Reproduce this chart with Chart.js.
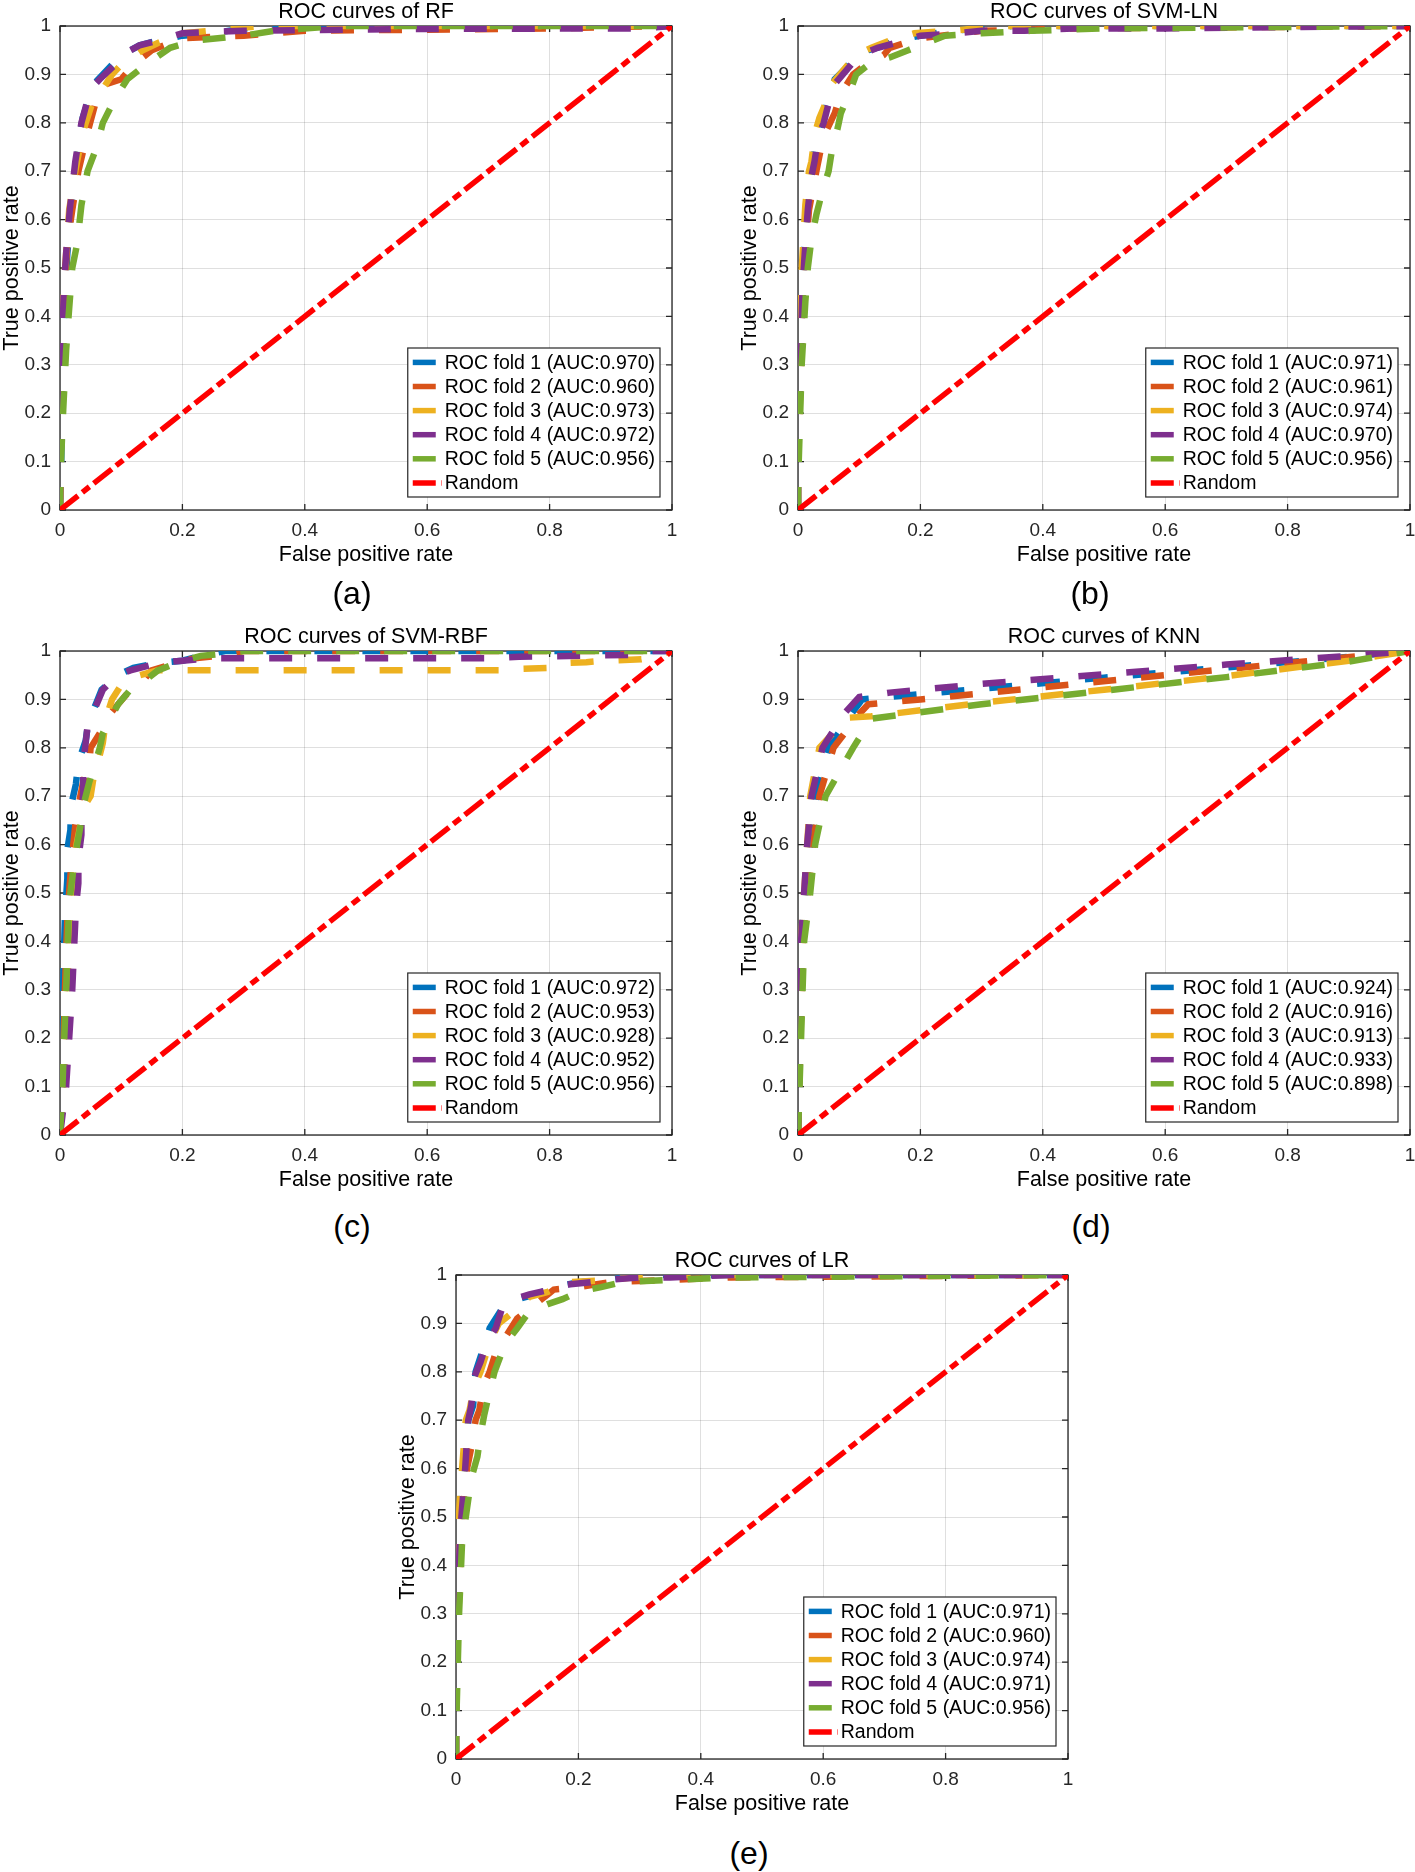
<!DOCTYPE html>
<html>
<head>
<meta charset="utf-8">
<script src="https://cdn.jsdelivr.net/npm/chart.js@4.4.1/dist/chart.umd.min.js"></script>
<style>
  html, body { margin: 0; padding: 0; background: #fff; overflow: hidden; }
  body { width: 1415px; height: 1872px; position: relative; font-family: "Liberation Sans", Arial, sans-serif; }
  canvas { position: absolute; }
  .tag { position: absolute; font-size: 32px; color: #000; transform: translate(-50%, -50%); white-space: nowrap; }
</style>
</head>
<body>
<canvas id="rf"></canvas>
<canvas id="svmln"></canvas>
<canvas id="svmrbf"></canvas>
<canvas id="knn"></canvas>
<canvas id="lr"></canvas>
<div class="tag" style="left:352px;top:593px">(a)</div>
<div class="tag" style="left:1090px;top:593px">(b)</div>
<div class="tag" style="left:352px;top:1226px">(c)</div>
<div class="tag" style="left:1091px;top:1226px">(d)</div>
<div class="tag" style="left:749px;top:1853px">(e)</div>
<script>
// tick labels
const xTicks = [0, 0.2, 0.4, 0.6, 0.8, 1];
const yTicks = [0, 0.1, 0.2, 0.3, 0.4, 0.5, 0.6, 0.7, 0.8, 0.9, 1];

const randomLine = [[0, 0], [1, 1]];

// RF
const rfFold1 = [[0,0],[0.002,0.1],[0.004,0.3],[0.008,0.44],[0.012,0.53],[0.018,0.62],[0.027,0.72],[0.037,0.81],[0.055,0.88],[0.07,0.9],[0.1,0.94],[0.13,0.96],[0.16,0.97],[0.2,0.98],[0.25,0.985],[0.3,0.995],[0.4,1],[1,1]];
const rfFold2 = [[0,0],[0.001,0.1],[0.004,0.3],[0.007,0.45],[0.012,0.55],[0.02,0.62],[0.03,0.7],[0.045,0.78],[0.06,0.85],[0.075,0.88],[0.1,0.89],[0.12,0.92],[0.15,0.95],[0.17,0.96],[0.2,0.975],[0.3,0.98],[0.4,0.99],[0.8,0.995],[1,1]];
const rfFold3 = [[0,0],[0.001,0.1],[0.003,0.3],[0.005,0.44],[0.01,0.53],[0.015,0.62],[0.025,0.7],[0.037,0.78],[0.055,0.85],[0.07,0.87],[0.085,0.9],[0.1,0.92],[0.135,0.95],[0.16,0.965],[0.2,0.985],[0.33,1],[1,1]];
const rfFold4 = [[0,0],[0,0.12],[0.003,0.3],[0.006,0.45],[0.01,0.53],[0.016,0.62],[0.025,0.72],[0.035,0.8],[0.05,0.87],[0.065,0.89],[0.09,0.92],[0.1,0.94],[0.13,0.96],[0.16,0.97],[0.2,0.985],[0.3,0.99],[0.6,0.994],[0.95,0.995],[1,1]];
const rfFold5 = [[0,0],[0,0.05],[0.005,0.2],[0.01,0.33],[0.014,0.4],[0.02,0.5],[0.028,0.55],[0.035,0.63],[0.045,0.7],[0.06,0.75],[0.07,0.8],[0.09,0.85],[0.11,0.89],[0.14,0.92],[0.18,0.955],[0.22,0.97],[0.3,0.98],[0.35,0.99],[0.45,1],[1,1]];
const rfAuc = [0.970, 0.960, 0.973, 0.972, 0.956];

// SVM-LN
const lnFold1 = [[0,0],[0,0.1],[0.003,0.3],[0.006,0.45],[0.01,0.54],[0.015,0.62],[0.02,0.68],[0.025,0.72],[0.03,0.77],[0.04,0.81],[0.05,0.85],[0.06,0.89],[0.08,0.915],[0.1,0.945],[0.13,0.955],[0.16,0.97],[0.2,0.98],[0.25,0.99],[0.3,0.995],[0.35,1],[1,1]];
const lnFold2 = [[0,0],[0,0.1],[0.005,0.3],[0.008,0.45],[0.012,0.53],[0.018,0.62],[0.03,0.7],[0.038,0.75],[0.045,0.78],[0.06,0.82],[0.07,0.86],[0.09,0.9],[0.11,0.92],[0.14,0.94],[0.15,0.955],[0.2,0.975],[0.3,0.99],[0.45,0.995],[1,1]];
const lnFold3 = [[0,0],[0,0.1],[0.002,0.3],[0.004,0.45],[0.008,0.54],[0.012,0.63],[0.018,0.7],[0.022,0.72],[0.028,0.78],[0.035,0.81],[0.045,0.84],[0.055,0.88],[0.075,0.91],[0.095,0.94],[0.12,0.955],[0.15,0.97],[0.19,0.985],[0.25,0.99],[0.33,1],[1,1]];
const lnFold4 = [[0,0],[0,0.1],[0.004,0.3],[0.007,0.45],[0.011,0.53],[0.016,0.62],[0.022,0.69],[0.027,0.72],[0.033,0.77],[0.042,0.8],[0.05,0.84],[0.06,0.88],[0.08,0.91],[0.1,0.94],[0.13,0.955],[0.16,0.965],[0.2,0.98],[0.26,0.985],[0.3,0.99],[0.37,0.99],[0.45,0.995],[0.6,0.995],[1,1]];
const lnFold5 = [[0,0],[0,0.05],[0.006,0.3],[0.012,0.43],[0.016,0.5],[0.022,0.56],[0.03,0.61],[0.04,0.66],[0.05,0.7],[0.055,0.74],[0.065,0.79],[0.07,0.82],[0.085,0.865],[0.095,0.9],[0.12,0.925],[0.15,0.935],[0.18,0.95],[0.21,0.965],[0.24,0.98],[0.3,0.985],[0.38,0.99],[0.5,0.995],[1,1]];
const lnAuc = [0.971, 0.961, 0.974, 0.970, 0.956];

// SVM-RBF
const rbfFold1 = [[0,0],[0.003,0.1],[0.005,0.3],[0.008,0.45],[0.012,0.53],[0.012,0.59],[0.017,0.63],[0.018,0.68],[0.026,0.725],[0.03,0.77],[0.042,0.815],[0.046,0.85],[0.06,0.895],[0.068,0.92],[0.094,0.95],[0.12,0.965],[0.16,0.975],[0.2,0.98],[0.23,0.99],[0.27,1],[1,1]];
const rbfFold2 = [[0,0],[0.004,0.1],[0.008,0.3],[0.012,0.45],[0.016,0.52],[0.02,0.58],[0.025,0.64],[0.03,0.68],[0.038,0.73],[0.048,0.77],[0.05,0.8],[0.065,0.83],[0.075,0.86],[0.095,0.89],[0.115,0.92],[0.14,0.945],[0.15,0.96],[0.19,0.975],[0.22,0.985],[0.26,0.99],[0.3,1],[1,1]];
const rbfFold3 = [[0,0],[0.006,0.1],[0.012,0.3],[0.016,0.45],[0.02,0.5],[0.025,0.55],[0.027,0.6],[0.035,0.65],[0.04,0.68],[0.05,0.7],[0.055,0.74],[0.062,0.77],[0.07,0.81],[0.075,0.86],[0.085,0.9],[0.1,0.93],[0.13,0.95],[0.16,0.96],[0.72,0.96],[0.75,0.963],[0.8,0.965],[0.82,0.975],[0.86,0.977],[0.89,0.98],[0.95,0.983],[0.97,0.988],[1,1]];
const rbfFold4 = [[0,0],[0.01,0.1],[0.02,0.3],[0.026,0.47],[0.03,0.52],[0.03,0.57],[0.035,0.62],[0.035,0.66],[0.038,0.71],[0.038,0.77],[0.042,0.81],[0.045,0.845],[0.06,0.89],[0.07,0.92],[0.094,0.95],[0.115,0.96],[0.16,0.975],[0.2,0.98],[0.25,0.985],[0.7,0.985],[0.75,0.988],[0.93,0.992],[0.95,1],[1,1]];
const rbfFold5 = [[0,0],[0.004,0.1],[0.01,0.3],[0.014,0.45],[0.017,0.5],[0.022,0.55],[0.028,0.6],[0.035,0.65],[0.04,0.69],[0.048,0.73],[0.058,0.77],[0.065,0.8],[0.07,0.83],[0.082,0.86],[0.095,0.89],[0.115,0.92],[0.14,0.94],[0.16,0.96],[0.19,0.975],[0.23,0.99],[0.27,0.995],[0.3,1],[1,1]];
const rbfAuc = [0.972, 0.953, 0.928, 0.952, 0.956];

// KNN
const knnFold1 = [[0,0],[0.003,0.2],[0.006,0.4],[0.012,0.5],[0.02,0.6],[0.03,0.7],[0.05,0.8],[0.09,0.875],[0.105,0.9],[0.15,0.905],[0.3,0.922],[0.5,0.945],[0.7,0.966],[0.9,0.988],[1,1]];
const knnFold2 = [[0,0],[0.004,0.2],[0.008,0.4],[0.016,0.5],[0.025,0.6],[0.035,0.7],[0.058,0.8],[0.1,0.87],[0.115,0.89],[0.2,0.9],[0.4,0.925],[0.6,0.95],[0.8,0.975],[1,1]];
const knnFold3 = [[0,0],[0.002,0.2],[0.005,0.4],[0.01,0.5],[0.015,0.6],[0.02,0.7],[0.035,0.8],[0.08,0.862],[0.12,0.865],[0.3,0.893],[0.5,0.92],[0.7,0.948],[0.9,0.98],[1,1]];
const knnFold4 = [[0,0],[0.002,0.2],[0.005,0.4],[0.01,0.5],[0.015,0.6],[0.022,0.7],[0.04,0.8],[0.075,0.87],[0.1,0.905],[0.15,0.914],[0.3,0.932],[0.5,0.952],[0.7,0.972],[0.9,0.99],[1,1]];
const knnFold5 = [[0,0],[0.005,0.2],[0.01,0.4],[0.02,0.5],[0.028,0.6],[0.045,0.7],[0.09,0.8],[0.12,0.86],[0.3,0.89],[0.5,0.918],[0.7,0.946],[0.9,0.978],[1,1]];
const knnAuc = [0.924, 0.916, 0.913, 0.933, 0.898];

// LR
const lrFold1 = [[0,0],[0,0.1],[0.002,0.3],[0.004,0.45],[0.008,0.52],[0.014,0.61],[0.02,0.7],[0.028,0.73],[0.032,0.8],[0.045,0.85],[0.055,0.89],[0.075,0.93],[0.1,0.95],[0.13,0.96],[0.16,0.975],[0.2,0.985],[0.25,0.99],[0.3,1],[1,1]];
const lrFold2 = [[0,0],[0,0.1],[0.004,0.3],[0.008,0.45],[0.012,0.53],[0.018,0.6],[0.026,0.65],[0.032,0.7],[0.038,0.72],[0.045,0.77],[0.055,0.8],[0.065,0.84],[0.08,0.87],[0.1,0.91],[0.12,0.93],[0.15,0.96],[0.16,0.97],[0.2,0.975],[0.25,0.985],[0.35,0.99],[0.45,0.995],[1,1]];
const lrFold3 = [[0,0],[0,0.1],[0.001,0.3],[0.003,0.45],[0.006,0.53],[0.01,0.6],[0.016,0.7],[0.022,0.72],[0.03,0.77],[0.04,0.8],[0.055,0.86],[0.07,0.9],[0.085,0.915],[0.1,0.93],[0.12,0.955],[0.15,0.965],[0.18,0.985],[0.25,0.99],[0.33,1],[1,1]];
const lrFold4 = [[0,0],[0,0.1],[0.003,0.3],[0.006,0.45],[0.01,0.52],[0.015,0.6],[0.02,0.7],[0.025,0.73],[0.03,0.79],[0.04,0.82],[0.05,0.86],[0.065,0.89],[0.075,0.93],[0.095,0.95],[0.12,0.96],[0.155,0.97],[0.18,0.98],[0.22,0.985],[0.25,0.99],[0.3,0.995],[0.35,0.995],[0.45,1],[1,1]];
const lrFold5 = [[0,0],[0,0.05],[0.005,0.3],[0.01,0.45],[0.016,0.5],[0.025,0.58],[0.035,0.625],[0.04,0.67],[0.046,0.71],[0.055,0.76],[0.063,0.8],[0.075,0.84],[0.085,0.865],[0.1,0.89],[0.12,0.925],[0.15,0.94],[0.174,0.95],[0.2,0.965],[0.237,0.975],[0.27,0.985],[0.35,0.99],[0.45,0.995],[1,1]];
const lrAuc = [0.971, 0.960, 0.974, 0.971, 0.956];

const foldColors = ['#0072BD', '#D95319', '#EDB120', '#7E2F8E', '#77AC30'];
const randomColor = '#FF0000';
const foldDash = [23, 25];
const randomDash = [23, 5.5, 9, 5.5];
const FONT = '"Liberation Sans", Arial, Helvetica, sans-serif';

Chart.defaults.font.family = FONT;

// box, inward ticks and the in-axes legend, matlab style
const matlabAxes = {
  id: 'matlabAxes',
  beforeDatasetsDraw(chart) {
    const {ctx, chartArea: a, scales: {x, y}} = chart;
    ctx.save();
    ctx.strokeStyle = '#262626';
    ctx.lineWidth = 1.3;
    ctx.strokeRect(a.left, a.top, a.width, a.height);
    ctx.beginPath();
    xTicks.forEach(v => {
      const px = x.getPixelForValue(v);
      ctx.moveTo(px, a.bottom); ctx.lineTo(px, a.bottom - 6);
      ctx.moveTo(px, a.top); ctx.lineTo(px, a.top + 6);
    });
    yTicks.forEach(v => {
      const py = y.getPixelForValue(v);
      ctx.moveTo(a.left, py); ctx.lineTo(a.left + 6, py);
      ctx.moveTo(a.right, py); ctx.lineTo(a.right - 6, py);
    });
    ctx.stroke();
    ctx.restore();
  },
  afterDatasetsDraw(chart, args, opts) {
    const {ctx, chartArea: a} = chart;
    const labels = opts.auc.map((v, i) => `ROC fold ${i + 1} (AUC:${v.toFixed(3)})`);
    labels.push('Random');
    ctx.save();
    ctx.font = '19.5px ' + FONT;
    const textW = Math.max(...labels.map(t => ctx.measureText(t).width));
    const w = 37 + textW + 5;
    const h = 149;
    const left = a.right - 12 - w;
    const top = a.bottom - 13 - h;
    ctx.fillStyle = '#fff';
    ctx.fillRect(left, top, w, h);
    ctx.strokeStyle = '#262626';
    ctx.lineWidth = 1.2;
    ctx.strokeRect(left, top, w, h);
    labels.forEach((t, i) => {
      const cy = top + 14.4 + i * 24.1;
      const isRandom = i === 5;
      ctx.strokeStyle = isRandom ? randomColor : foldColors[i];
      ctx.lineWidth = 5.5;
      ctx.setLineDash(isRandom ? randomDash : foldDash);
      ctx.beginPath();
      ctx.moveTo(left + 5, cy);
      ctx.lineTo(left + 34, cy);
      ctx.stroke();
      ctx.setLineDash([]);
      ctx.fillStyle = '#000';
      ctx.textBaseline = 'middle';
      ctx.textAlign = 'left';
      ctx.fillText(t, left + 37, cy + 1);
    });
    ctx.restore();
  }
};

function toXY(pts) {
  return pts.map(p => ({x: p[0], y: p[1]}));
}

function drawRoc(id, left, top, title, folds, auc) {
  const canvas = document.getElementById(id);
  canvas.width = 684;
  canvas.height = 575;
  canvas.style.left = (left - 60) + 'px';
  canvas.style.top = (top - 26) + 'px';

  const datasets = folds.map((pts, i) => ({
    label: `ROC fold ${i + 1}`,
    data: toXY(pts),
    borderColor: foldColors[i],
    borderWidth: 6.5,
    borderDash: foldDash,
    order: 5 - i
  }));
  datasets.push({
    label: 'Random',
    data: toXY(randomLine),
    borderColor: randomColor,
    borderWidth: 5.5,
    borderDash: randomDash,
    order: 0
  });

  const gridColor = 'rgba(38,38,38,0.15)';
  new Chart(canvas, {
    type: 'scatter',
    data: { datasets },
    options: {
      responsive: false,
      animation: false,
      devicePixelRatio: 1,
      showLine: true,
      elements: { point: { radius: 0 }, line: { tension: 0, fill: false } },
      layout: { padding: { left: 0, right: 12, top: 0, bottom: 0 } },
      scales: {
        x: {
          type: 'linear', min: 0, max: 1,
          afterBuildTicks: s => { s.ticks = xTicks.map(v => ({ value: v })); },
          afterFit: s => { s.height = 65; s.paddingLeft = 0; s.paddingRight = 0; },
          ticks: { callback: v => String(v), font: { size: 19 }, color: '#262626', padding: 9, maxRotation: 0, autoSkip: false },
          grid: { color: gridColor, lineWidth: 1, drawTicks: false },
          border: { display: false },
          title: { display: true, text: 'False positive rate', font: { size: 21.5 }, color: '#000', padding: { top: 0, bottom: 7 } }
        },
        y: {
          type: 'linear', min: 0, max: 1,
          afterBuildTicks: s => { s.ticks = yTicks.map(v => ({ value: v })); },
          afterFit: s => { s.width = 60; s.paddingTop = 0; s.paddingBottom = 0; },
          ticks: { callback: v => String(v), font: { size: 19 }, color: '#262626', padding: 9, autoSkip: false },
          grid: { color: gridColor, lineWidth: 1, drawTicks: false },
          border: { display: false },
          title: { display: true, text: 'True positive rate', font: { size: 21.5, lineHeight: 1.1 }, color: '#000', padding: { top: 0, bottom: 0 } }
        }
      },
      plugins: {
        legend: { display: false },
        tooltip: { enabled: false },
        title: {
          display: true, text: title, fullSize: false, color: '#000',
          font: { size: 21.5, weight: 'normal', lineHeight: 1.1 },
          padding: { top: 0, bottom: 2.35 }
        },
        matlabAxes: { auc }
      }
    },
    plugins: [matlabAxes]
  });
}

drawRoc('rf', 60, 26, 'ROC curves of RF', [rfFold1, rfFold2, rfFold3, rfFold4, rfFold5], rfAuc);
drawRoc('svmln', 798, 26, 'ROC curves of SVM-LN', [lnFold1, lnFold2, lnFold3, lnFold4, lnFold5], lnAuc);
drawRoc('svmrbf', 60, 651, 'ROC curves of SVM-RBF', [rbfFold1, rbfFold2, rbfFold3, rbfFold4, rbfFold5], rbfAuc);
drawRoc('knn', 798, 651, 'ROC curves of KNN', [knnFold1, knnFold2, knnFold3, knnFold4, knnFold5], knnAuc);
drawRoc('lr', 456, 1275, 'ROC curves of LR', [lrFold1, lrFold2, lrFold3, lrFold4, lrFold5], lrAuc);
</script>
</body>
</html>
